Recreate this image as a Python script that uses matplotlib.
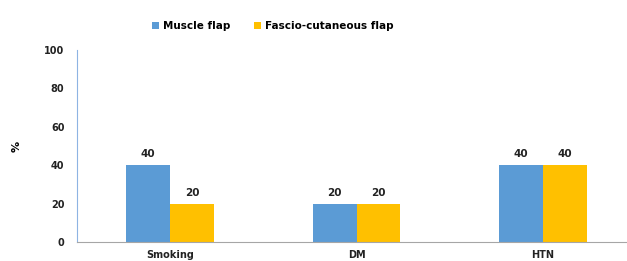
import numpy as np
from matplotlib import pyplot as plt

# Data
categories = ["Smoking", "DM", "HTN"]
muscle_flap = [40, 20, 40]
fascio_flap = [20, 20, 40]
y_ticks = [0, 20, 40, 60, 80, 100]

blue = "#5B9BD5"
yellow = "#FFC000"

fig = plt.figure(figsize=(6.27, 2.61), dpi=100)
ax = fig.add_axes([0.1228, 0.0728, 0.88, 0.7356])

x = np.arange(len(categories))
width = 0.235
bars1 = ax.bar(x - width / 2, muscle_flap, width, color=blue, label="Muscle flap")
bars2 = ax.bar(x + width / 2, fascio_flap, width, color=yellow, label="Fascio-cutaneous flap")

# Value labels above each bar
for bars in (bars1, bars2):
    for b in bars:
        ax.text(b.get_x() + b.get_width() / 2, b.get_height() + 3, f"{int(b.get_height())}",
                ha="center", va="bottom", fontsize=7.5, fontweight="bold", color="#222222")

ax.set_xlim(-0.5, 2.46)
ax.set_ylim(0, 100)
ax.set_yticks(y_ticks)
ax.set_yticklabels([str(t) for t in y_ticks], fontsize=7, fontweight="bold", color="#222222")
ax.set_xticks(x)
ax.set_xticklabels(categories, fontsize=7, fontweight="bold", color="#222222")
ax.tick_params(axis="both", length=0, pad=9)
ax.tick_params(axis="x", pad=6)

ax.spines["top"].set_visible(False)
ax.spines["right"].set_visible(False)
ax.spines["left"].set_color("#8EB4E3")
ax.spines["bottom"].set_color("#A6A6A6")

ax.set_ylabel("%", fontsize=8, fontweight="bold", labelpad=16)

fig.legend(loc="upper center", bbox_to_anchor=(0.435, 0.955), ncol=2, frameon=False,
           prop={"size": 7.5, "weight": "bold"}, handlelength=0.7, handleheight=0.7,
           handletextpad=0.4, columnspacing=2.2)

plt.savefig("out.png", dpi=100)
